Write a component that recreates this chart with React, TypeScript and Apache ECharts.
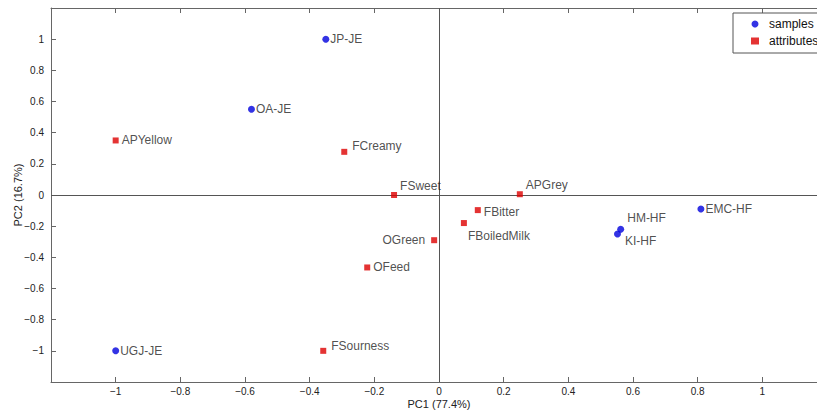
import React, { useEffect, useRef } from "react";
import * as echarts from "echarts";

const sampleNames = ["JP-JE", "OA-JE", "UGJ-JE", "EMC-HF", "HM-HF", "KI-HF"];
const sampleX = [-0.35, -0.58, -1.0, 0.81, 0.562, 0.552];
const sampleY = [1.0, 0.55, -1.0, -0.09, -0.22, -0.25];

const attrNames = ["APYellow", "FCreamy", "FSweet", "APGrey", "FBitter", "FBoiledMilk", "OGreen", "OFeed", "FSourness"];
const attrX = [-1.0, -0.293, -0.139, 0.25, 0.12, 0.077, -0.015, -0.222, -0.358];
const attrY = [0.35, 0.277, 0.0, 0.005, -0.097, -0.18, -0.29, -0.465, -1.0];

const xTicks = [-1, -0.8, -0.6, -0.4, -0.2, 0, 0.2, 0.4, 0.6, 0.8, 1];
const yTicks = [-1, -0.8, -0.6, -0.4, -0.2, 0, 0.2, 0.4, 0.6, 0.8, 1];

// label placement (style, not data)
const sampleLabelStyle: Record<string, any> = {
  "HM-HF": { position: "right", offset: [2, -11] },
  "KI-HF": { position: "right", offset: [3, 7] },
};
const attrLabelStyle: Record<string, any> = {
  FCreamy: { position: "right", offset: [2, -6] },
  FSweet: { position: "right", offset: [0, -9] },
  APGrey: { position: "right", offset: [0, -9] },
  FBitter: { position: "right", offset: [0, 2] },
  FBoiledMilk: { position: "right", offset: [-2, 13] },
  OGreen: { position: "left", distance: 6 },
  FSourness: { position: "right", offset: [2, -5] },
};

const fmt = (v: number) => {
  const r = Math.round(v * 10) / 10;
  if (Math.abs(r) > 1.05) return "";
  const s = String(Math.abs(r));
  return r < 0 ? "\u2212" + s : s;
};

export default function App() {
  const ref = useRef<HTMLDivElement>(null);
  useEffect(() => {
    if (!ref.current) return;
    const chart = echarts.init(ref.current, undefined, { renderer: "svg" });
    const font = "Liberation Sans, Arial, Helvetica, sans-serif";
    const axisCommon = {
      min: -1.2,
      max: 1.2,
      interval: 0.2,
      splitLine: { show: false },
      axisLine: { show: true, onZero: false, lineStyle: { color: "#666", width: 1 } },
      axisTick: { show: true, inside: true, length: 5, lineStyle: { color: "#666" } },
    };
    chart.setOption({
      animation: false,
      backgroundColor: "#fff",
      textStyle: { fontFamily: font },
      grid: { left: 51, right: -10, top: 8, bottom: 34, containLabel: false, outerBoundsMode: "none" },
      legend: {
        orient: "vertical",
        left: 733,
        top: 13,
        backgroundColor: "#fff",
        borderColor: "#555",
        borderWidth: 1,
        borderRadius: 0,
        padding: [5, 10, 6, 18],
        itemGap: 5,
        itemWidth: 8,
        itemHeight: 7,
        textStyle: { fontSize: 12, color: "#111", fontFamily: font, padding: [0, 0, 0, 5] },
        data: [
          { name: "samples", icon: "circle" },
          { name: "attributes", icon: "rect" },
        ],
      },
      xAxis: [
        {
          ...axisCommon,
          type: "value",
          position: "bottom",
          name: "PC1 (77.4%)",
          nameLocation: "middle",
          nameGap: 16,
          nameMoveOverlap: false,
          nameTextStyle: { fontSize: 11, color: "#222", fontFamily: font },
          axisLabel: { formatter: fmt, fontSize: 10, color: "#222", margin: 4, fontFamily: font },
        },
        {
          ...axisCommon,
          type: "value",
          position: "top",
          axisLabel: { show: false },
        },
      ],
      yAxis: [
        {
          ...axisCommon,
          type: "value",
          position: "left",
          name: "PC2 (16.7%)",
          nameLocation: "middle",
          nameGap: 28,
          nameMoveOverlap: false,
          nameTextStyle: { fontSize: 11, color: "#222", fontFamily: font },
          axisLabel: { formatter: fmt, fontSize: 10, color: "#222", margin: 7, fontFamily: font },
        },
        {
          ...axisCommon,
          type: "value",
          position: "right",
          axisLabel: { show: false },
        },
      ],
      series: [
        {
          name: "samples",
          type: "scatter",
          symbol: "circle",
          symbolSize: 7,
          itemStyle: { color: "#0000dd" },
          z: 3,
          label: { show: true, position: "right", distance: 1, fontSize: 12, color: "#222", fontFamily: font },
          data: sampleNames.map((n, i) => ({
            name: n,
            value: [sampleX[i], sampleY[i]],
            label: { formatter: n, ...(sampleLabelStyle[n] || {}) },
          })),
          markLine: {
            silent: true,
            symbol: "none",
            label: { show: false },
            lineStyle: { color: "#555", width: 1, type: "solid" },
            data: [{ xAxis: 0 }, { yAxis: 0 }],
            z: 1,
          },
        },
        {
          name: "attributes",
          type: "scatter",
          symbol: "rect",
          symbolSize: 6,
          itemStyle: { color: "#dd0000" },
          z: 3,
          label: { show: true, position: "right", distance: 3, fontSize: 12, color: "#222", fontFamily: font },
          data: attrNames.map((n, i) => ({
            name: n,
            value: [attrX[i], attrY[i]],
            label: { formatter: n, ...(attrLabelStyle[n] || {}) },
          })),
        },
      ],
    });
    return () => chart.dispose();
  }, []);
  return (
    <div
      ref={ref}
      style={{ position: "absolute", left: 0, top: 0, width: 817, height: 416, overflow: "hidden" }}
    />
  );
}
